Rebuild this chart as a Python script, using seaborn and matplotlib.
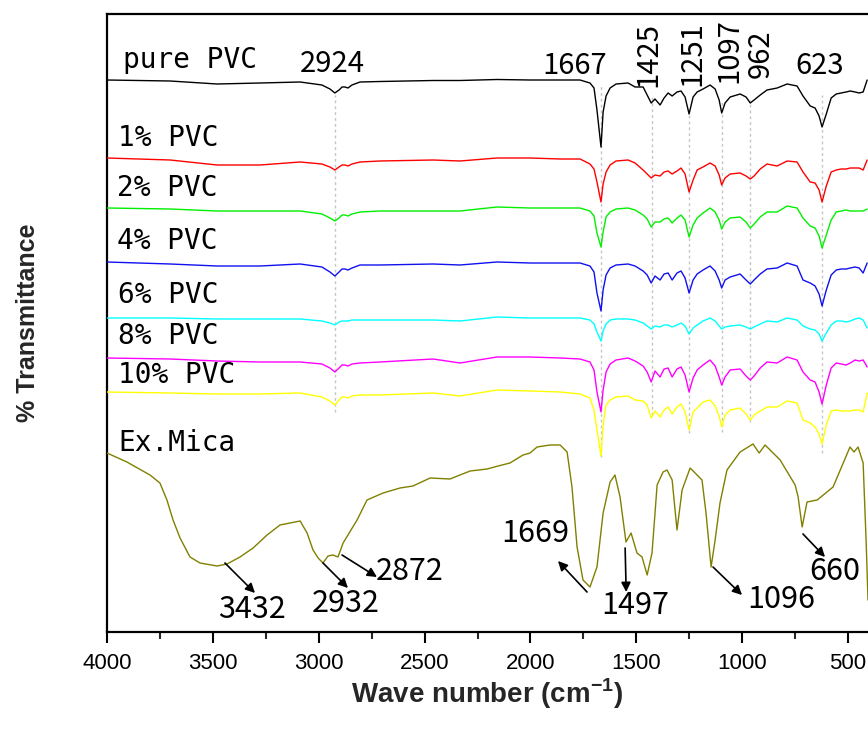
import matplotlib
matplotlib.use("Agg")
import matplotlib.pyplot as plt
import seaborn as sns
import pandas as pd

# ---- wavenumber grid shared by the PVC spectra (cm^-1) ----
wn_pvc = [4000, 3702, 3480, 3277, 3088, 2985, 2947, 2924, 2904, 2890,
          2876, 2862, 2843, 2805, 2711, 2460, 2333, 2158, 2002, 1860,
          1766, 1719, 1700, 1686, 1667, 1657, 1643, 1624, 1596, 1539,
          1506, 1468, 1449, 1430, 1412, 1388, 1369, 1350, 1331, 1308,
          1289, 1270, 1251, 1232, 1213, 1185, 1152, 1128, 1109, 1097,
          1081, 1057, 1010, 982, 962, 944, 915, 883, 835, 788,
          741, 713, 679, 656, 637, 623, 603, 580, 556, 533,
          509, 490, 467, 448, 429, 410]

# ---- stacked transmittance traces (arbitrary offset units) ----
t_pure = [552, 551, 548, 549, 550, 547, 543, 539, 542, 545,
          545, 544, 547, 550, 550.5, 551.5, 551.5, 552.5, 552, 552,
          552, 549, 544, 522, 485, 520, 536, 544, 548, 549,
          545, 545, 537, 529, 533, 527, 534, 539, 536, 540,
          541, 535, 518, 535, 540, 543, 547, 543, 532, 519,
          529, 535, 538, 535, 529, 532, 537, 542, 544, 548,
          546, 536, 526, 524, 516, 505, 518, 534, 538, 539,
          540, 541, 540, 539, 540, 552]
t_1 = [474, 472, 467, 467, 470, 468, 465, 462, 465, 467,
       467, 466, 468, 470, 471, 472, 471, 474, 474, 473,
       473, 468, 463, 450, 430, 448, 460, 467, 471, 472,
       469, 462, 458, 454, 457, 456, 460, 461, 458, 461,
       464, 458, 440, 452, 462, 465, 469, 466, 457, 447,
       454, 458, 459, 456, 453, 456, 463, 468, 466, 471,
       470, 460, 450, 449, 442, 430, 446, 460, 462, 463,
       463, 464, 464, 464, 462, 472]
t_2 = [424, 423, 421, 421, 421, 418, 414, 411, 414, 417,
       417, 416, 418, 420, 421, 421, 421, 425, 424, 424,
       424, 421, 416, 399, 385, 400, 415, 420, 423, 424,
       422, 417, 413, 405, 410, 410, 413, 414, 409, 414,
       417, 412, 395, 407, 414, 419, 424, 420, 412, 403,
       410, 414, 415, 410, 404, 408, 415, 420, 420, 426,
       424, 414, 406, 404, 396, 384, 397, 412, 420, 421,
       422, 421, 421, 421, 421, 423]
t_4 = [370, 368, 366, 366, 368, 365, 360, 356, 360, 363,
       363, 362, 364, 367, 367, 368, 367, 370, 369, 369,
       369, 366, 360, 339, 321, 342, 357, 364, 367, 368,
       366, 361, 357, 349, 356, 352, 358, 359, 352, 359,
       361, 354, 339, 352, 358, 362, 366, 361, 352, 344,
       352, 355, 358, 352, 348, 352, 358, 363, 364, 369,
       366, 352, 349, 346, 338, 326, 342, 357, 362, 363,
       363, 364, 365, 364, 359, 369]
t_6 = [314, 314, 313, 313, 313, 311, 309, 307, 310, 311,
       311, 311, 312, 312, 312, 312, 311, 315, 314, 314,
       314, 312, 308, 300, 291, 301, 308, 312, 313, 313,
       312, 309, 306, 303, 306, 305, 307, 307, 305, 307,
       309, 306, 298, 304, 307, 311, 314, 311, 306, 303,
       305, 306, 307, 305, 303, 305, 308, 311, 310, 314,
       312, 306, 303, 302, 298, 291, 299, 307, 311, 311,
       310, 311, 313, 314, 312, 304]
t_8 = [274, 273, 271, 270, 270, 268, 264, 260, 264, 267,
       267, 266, 268, 269, 270, 273, 269, 275, 275, 274,
       273, 270, 262, 240, 220, 242, 260, 268, 272, 274,
       271, 266, 260, 250, 261, 255, 263, 264, 255, 263,
       265, 257, 240, 254, 262, 267, 272, 266, 255, 247,
       255, 262, 263, 256, 252, 256, 264, 270, 269, 275,
       272, 260, 252, 250, 240, 228, 247, 264, 269, 268,
       267, 269, 272, 271, 272, 265]
t_10 = [240, 239, 238, 238, 239, 235, 231, 227, 232, 235,
        235, 234, 236, 237, 237, 239, 236, 242, 241, 240,
        238, 234, 222, 202, 176, 207, 227, 232, 235, 236,
        232, 231, 227, 214, 221, 215, 222, 225, 218, 225,
        228, 220, 202, 220, 224, 230, 232, 226, 216, 205,
        217, 222, 224, 218, 212, 217, 221, 225, 225, 231,
        229, 212, 209, 205, 198, 188, 207, 221, 222, 221,
        221, 221, 222, 222, 220, 239]

# ---- exfoliated mica spectrum ----
wn_mica = [4000, 3906, 3797, 3750, 3717, 3688, 3655, 3608, 3561, 3480,
           3433, 3372, 3310, 3244, 3183, 3136, 3088, 3055, 3027, 3003,
           2980, 2956, 2933, 2909, 2885, 2819, 2772, 2696, 2616, 2555,
           2474, 2380, 2333, 2285, 2205, 2153, 2097, 2035, 2002, 1969,
           1908, 1860, 1827, 1804, 1780, 1752, 1719, 1686, 1657, 1624,
           1601, 1577, 1549, 1525, 1497, 1473, 1449, 1426, 1402, 1374,
           1355, 1331, 1308, 1284, 1246, 1190, 1171, 1147, 1128, 1105,
           1072, 1010, 949, 920, 892, 821, 750, 736, 717, 694,
           646, 571, 491, 472, 453, 429, 415, 406]
t_mica = [179, 170, 157, 149, 132, 112, 94, 75, 69, 66,
          68, 75, 84, 97, 107, 109, 111, 99, 82, 74,
          69, 76, 77, 75, 89, 112, 132, 139, 144, 146,
          154, 153, 157, 161, 163, 166, 169, 177, 179, 185,
          187, 187, 180, 145, 85, 52, 45, 65, 119, 150,
          157, 135, 90, 99, 79, 75, 57, 79, 147, 160,
          162, 152, 102, 142, 164, 152, 119, 65, 92, 129,
          162, 180, 188, 179, 187, 172, 147, 135, 105, 130,
          132, 145, 185, 180, 185, 169, 92, 32]

series_names = ["pure PVC", "1% PVC", "2% PVC", "4% PVC",
                "6% PVC", "8% PVC", "10% PVC"]
series_values = [t_pure, t_1, t_2, t_4, t_6, t_8, t_10]
series_colors = ["#000000", "#ff0000", "#00f000", "#1010f0",
                 "#00ffff", "#ff00ff", "#ffff00"]
label_wn = [3924, 3948, 3953, 3953, 3948, 3948, 3948]
label_t = [564, 486, 436, 383, 329, 288, 249]

# PVC band positions marked by guide lines: (wavenumber, top, bottom)
band_wn = [2924, 1667, 1425, 1251, 1097, 962, 623]
band_top = [537, 547, 535, 520, 532, 532, 537]
band_bottom = [220, 175, 217, 199, 200, 210, 179]

# horizontal band labels above the pure PVC trace
top_labels = ["2924", "1667", "623"]
top_label_wn = [2935, 1792, 632]
top_label_t = [560, 558, 558]
# vertical band labels
rot_labels = ["1425", "1251", "1097", "962"]
rot_label_wn = [1445, 1237, 1062, 911]
rot_label_t = [577, 578, 581, 578]

# mica band annotations: text, text position, arrow start, arrow end
mica_labels = ["3432", "2932", "2872", "1669", "1497", "1096", "660"]
mica_text_xy = [(3315, 23), (2871, 28), (2569, 60), (1978, 98),
                (1506, 27), (817, 32), (561, 60)]
mica_arrow_from = [(3443, 69), (2980, 69), (2890, 77), (1733, 40),
                   (1553, 84), (1138, 65), (713, 98)]
mica_arrow_to = [(3301, 39), (2862, 44), (2725, 55), (1870, 71),
                 (1548, 40), (1001, 37), (609, 75)]

sns.set_theme(style="ticks")
plt.rcParams["font.family"] = ["Liberation Sans", "DejaVu Sans"]

fig = plt.figure(figsize=(8.68, 7.32), dpi=100)
ax = fig.add_axes([107 / 868, 100 / 732, 761 / 868, 618 / 732])

rows = []
for name, vals in zip(series_names, series_values):
    for w, v in zip(wn_pvc, vals):
        rows.append({"wn": w, "t": v, "sample": name})
for w, v in zip(wn_mica, t_mica):
    rows.append({"wn": w, "t": v, "sample": "Ex.Mica"})
df = pd.DataFrame(rows)

palette = dict(zip(series_names + ["Ex.Mica"], series_colors + ["#808000"]))

ax.vlines(band_wn, band_bottom, band_top, colors="#c4c4c4",
          linestyles=(0, (2, 2.2)), linewidth=1.0, zorder=1)

for name in series_names + ["Ex.Mica"]:
    sub = df[df["sample"] == name]
    sns.lineplot(data=sub, x="wn", y="t", color=palette[name], lw=1.0,
                 sort=False, estimator=None, ax=ax, legend=False, zorder=3)

mono = "DejaVu Sans Mono"
for name, x, y in zip(series_names, label_wn, label_t):
    ax.text(x, y, name, family=mono, fontsize=20, ha="left",
            va="baseline", color="black")
ax.text(3948, 181, "Ex.Mica", family=mono, fontsize=20, ha="left",
        va="baseline", color="black")

num_font = ["Noto Sans CJK SC", "DejaVu Sans"]
for s, x, y in zip(top_labels, top_label_wn, top_label_t):
    ax.text(x, y, s, family=num_font, fontsize=21, ha="center",
            va="baseline", color="black")
for s, x, y in zip(rot_labels, rot_label_wn, rot_label_t):
    ax.text(x, y, s, family=num_font, fontsize=21, ha="center",
            va="center", rotation=90, color="black")

for s, txy, a0, a1 in zip(mica_labels, mica_text_xy, mica_arrow_from,
                          mica_arrow_to):
    ax.annotate("", xy=a1, xytext=a0,
                arrowprops=dict(arrowstyle="-|>", color="black", lw=1.2,
                                mutation_scale=14, shrinkA=0, shrinkB=0))
    ax.text(txy[0], txy[1], s, family=num_font, fontsize=22,
            ha="center", va="center", color="black")

ax.set_xlim(4000, 406)
ax.set_ylim(0, 618)
ax.set_xticks([4000, 3500, 3000, 2500, 2000, 1500, 1000, 500])
ax.set_xticks([3750, 3250, 2750, 2250, 1750, 1250, 750], minor=True)
ax.set_yticks([])
ax.tick_params(axis="x", which="major", direction="out", length=8,
               width=1.5, labelsize=16, pad=7, colors="black")
ax.tick_params(axis="x", which="minor", direction="out", length=5,
               width=1.5)
for side in ["left", "bottom", "top"]:
    ax.spines[side].set_linewidth(1.6)
    ax.spines[side].set_color("black")
ax.spines["right"].set_visible(False)

ax.set_xlabel(r"Wave number (cm$^{\mathregular{-1}}$)", fontsize=20,
              fontweight="bold")
ax.xaxis.set_label_coords(0.5, -0.072)
ax.set_ylabel("% Transmittance", fontsize=18, fontweight="bold")
ax.yaxis.set_label_coords(-0.088, 0.5)

fig.savefig("out.png", dpi=100)
